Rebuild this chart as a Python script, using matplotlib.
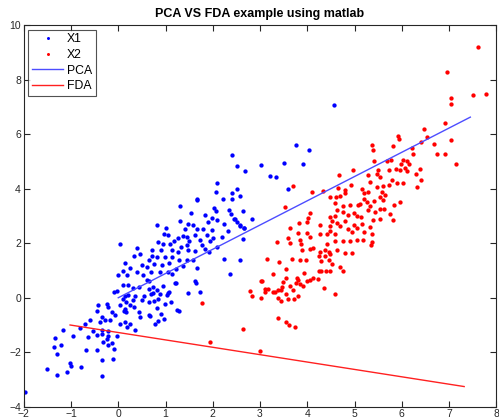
import numpy as np
import matplotlib
matplotlib.use('Agg')
import matplotlib.pyplot as plt

plt.rcParams['font.family'] = ['Liberation Sans', 'DejaVu Sans']

# ── Data ──────────────────────────────────────────────────────────────────────

# class X1 (blue dots)
x1_pts = [
    # lower tail
    (-1.97, -3.45), (-1.51, -2.61), (-1.08, -2.71), (-1.29, -2.83), (-0.34, -2.89),
    (-1.02, -2.39), (-0.99, -2.49), (-0.79, -2.55), (-0.35, -2.28), (-0.12, -2.24),
    (-1.29, -2.06), (-0.68, -1.90), (-0.44, -1.90), (-0.10, -1.88), (-0.21, -1.75),
    (-0.14, -1.66), (-0.24, -1.53), (-0.33, -1.61), (-1.36, -1.80), (-1.21, -1.73),
    (-1.34, -1.47), (-0.96, -1.40), (-0.63, -1.45), (-0.46, -1.36), (-0.35, -1.33),
    (-0.21, -1.42), (-0.03, -1.39), (-1.16, -1.20), (-0.81, -1.12), (-0.53, -1.21),
    (-0.35, -1.20), (-0.21, -1.23), (-0.70, -0.96), (-0.39, -0.90), (-0.28, -0.83),
    (0.04, -0.96), (0.14, -0.90), (0.18, -1.08), (0.25, -0.96), (0.36, -1.20),
    (-0.60, -0.81), (-0.17, -0.80), (-0.07, -0.65), (-0.46, -0.47), (-0.35, -0.69),
    (0.12, -0.49), (0.17, -0.53), (0.43, -0.53), (0.46, -0.71), (0.66, -0.65),
    (-0.42, -0.26), (-0.24, -0.22), (-0.21, -0.35), (-0.14, -0.53), (0.04, -0.28),
    (0.14, -0.43), (0.25, -0.28), (0.33, -0.35), (0.09, -0.04), (0.17, -0.14),
    (0.32, -0.08), (0.50, -0.08), (0.64, -0.14), (-0.08, 0.21), (-0.03, 0.24),
    (0.14, 0.08), (0.21, 0.11), (0.35, 0.08), (0.54, 0.06), (0.11, 0.45),
    (0.21, 0.45), (0.32, 0.35), (0.43, 0.39), (0.64, 0.33), (-0.01, 0.82),
    (0.19, 0.82), (0.39, 0.94), (0.53, 0.82), (0.60, 0.64),
    # right of the tail
    (0.67, -0.66), (0.70, 0.15), (0.73, 0.41), (0.76, -0.12), (0.78, -0.95),
    (0.81, 0.27), (0.83, -0.37), (0.85, -0.87), (0.88, 0.15), (0.90, -0.59),
    (0.94, 0.44), (0.97, -0.79), (0.99, -0.22), (1.03, 0.09), (1.08, 0.21),
    (1.11, -0.16), (1.25, -0.44), (1.29, -0.50), (1.48, 0.17), (1.72, 0.22),
    (1.65, 0.54), (1.20, 0.54), (0.85, -0.04), (0.74, 0.17), (1.06, 0.17),
    # left middle
    (0.04, 1.98), (0.39, 1.83), (0.33, 1.55), (0.14, 1.27), (0.45, 1.61),
    (0.25, 1.10), (0.50, 1.20), (0.10, 1.00),
    # main body
    (2.40, 5.23), (2.52, 4.82), (2.69, 4.64), (3.01, 4.87), (3.22, 4.48),
    (3.34, 4.42), (3.51, 4.95), (2.08, 4.21), (2.07, 3.88), (1.67, 3.64),
    (1.67, 3.57), (2.22, 3.64), (2.41, 3.84), (2.52, 4.00), (2.41, 3.64),
    (1.31, 3.37), (2.03, 3.29), (2.07, 3.17), (1.84, 3.05), (1.53, 3.11),
    (2.34, 3.21), (2.63, 3.18), (2.39, 3.06), (2.82, 2.90), (1.98, 2.94),
    (2.10, 2.86), (2.47, 2.90), (1.31, 2.81), (0.82, 2.67), (1.48, 2.69),
    (1.59, 2.66), (1.89, 2.79), (2.24, 2.72), (2.51, 2.78), (2.58, 2.62),
    (2.66, 2.57), (1.00, 2.57), (0.97, 2.35), (1.06, 2.31), (1.67, 2.51),
    (1.79, 2.53), (1.98, 2.47), (2.33, 2.45), (1.41, 2.53), (1.17, 2.10),
    (1.27, 2.20), (1.36, 2.25), (1.45, 2.23), (1.50, 2.08), (1.62, 2.29),
    (1.73, 2.13), (1.87, 2.29), (1.95, 2.10), (2.01, 2.20), (2.19, 2.23),
    (2.65, 2.17), (0.85, 2.04), (0.95, 1.96), (1.10, 1.98), (1.32, 1.88),
    (1.45, 1.92), (1.77, 1.92), (2.10, 1.88), (0.71, 1.74), (0.90, 1.74),
    (1.13, 1.74), (1.27, 1.67), (1.47, 1.74), (1.62, 1.71), (1.84, 1.80),
    (1.91, 1.67), (0.71, 1.55), (0.83, 1.49), (0.99, 1.51), (1.14, 1.51),
    (1.29, 1.39), (1.45, 1.37), (1.59, 1.39), (0.64, 1.39), (0.60, 1.12),
    (0.76, 1.25), (0.93, 1.22), (1.07, 1.27), (1.22, 1.06), (1.36, 1.15),
    (0.69, 0.94), (0.88, 0.94), (1.05, 0.96), (1.13, 0.88), (2.24, 1.43),
    (2.58, 1.37), (1.67, 1.10), (2.37, 0.88), (1.62, 0.60), (0.64, 0.63),
    (1.22, 0.53), (2.58, 3.74), (2.44, 2.90), (2.58, 2.68), (2.66, 2.56),
    # stragglers above the PCA line
    (3.76, 5.60), (4.03, 5.42), (3.90, 4.91), (3.59, 3.98), (4.57, 7.07),
]

# class X2 (red dots)
x2_pts = [
    (4.09, 3.88), (3.52, 3.33), (4.48, 3.70), (4.61, 3.70), (4.69, 3.72),
    (4.80, 3.85), (4.59, 3.48), (4.76, 3.36), (4.90, 3.39), (5.08, 3.39),
    (4.62, 3.21), (4.76, 3.15), (4.87, 3.03), (4.98, 3.11), (4.06, 3.11),
    (4.48, 2.96), (4.59, 2.99), (4.02, 2.93), (3.99, 2.78), (4.52, 2.82),
    (4.62, 2.74), (4.80, 2.81), (5.05, 2.99), (4.26, 2.68), (3.64, 2.57),
    (3.83, 2.74), (4.48, 2.62), (4.69, 2.62), (4.87, 2.54), (5.05, 2.57),
    (4.48, 2.45), (4.59, 2.35), (4.94, 2.41), (3.80, 2.39), (4.00, 2.39),
    (4.27, 2.33), (4.41, 2.33), (3.60, 2.20), (3.64, 2.02), (3.35, 2.05),
    (3.85, 2.13), (4.06, 2.23), (4.41, 1.98), (4.59, 2.08), (4.76, 2.08),
    (4.90, 2.08), (5.05, 2.13), (3.86, 1.96), (4.06, 1.80), (3.88, 1.77),
    (4.13, 1.84), (4.27, 1.68), (4.38, 1.74), (4.45, 1.68), (4.62, 1.74),
    (4.80, 1.65), (4.94, 1.65), (4.24, 1.55), (4.38, 1.55), (4.48, 1.62),
    (3.14, 1.43), (3.40, 1.33), (3.67, 1.43), (3.85, 1.37), (3.97, 1.37),
    (4.30, 1.35), (4.45, 1.37), (4.52, 1.25), (4.69, 1.13), (4.75, 0.97),
    (3.56, 1.04), (3.27, 0.86), (4.24, 1.00), (4.30, 1.00), (4.40, 1.00),
    (4.48, 0.97), (3.92, 0.91), (3.56, 0.73), (3.78, 0.73), (4.06, 0.64),
    (4.13, 0.73), (4.22, 0.70), (3.02, 0.61), (3.49, 0.58), (3.81, 0.64),
    (4.00, 0.60), (3.85, 0.49), (3.90, 0.43), (3.64, 0.42), (3.76, 0.54),
    (3.37, 0.29), (3.44, 0.29), (4.35, 0.35), (3.16, 0.32), (3.11, 0.21),
    (2.79, 0.24), (2.84, 0.05), (3.02, 0.00), (3.28, 0.20), (3.37, 0.00),
    (3.44, -0.12), (3.55, 0.12), (3.60, -0.04), (3.69, 0.29), (3.71, -0.04),
    (3.81, 0.05), (4.59, 0.15), (3.37, -0.75), (3.56, -0.90), (3.62, -1.01),
    (3.73, -1.08), (2.63, -1.14), (3.00, -1.96), (1.77, -0.18), (1.94, -1.63),
    (3.69, 4.09), (3.04, 0.63), (3.11, 0.33), (3.32, 0.20), (3.46, 0.39),
    # upper part of the cloud
    (5.93, 5.94), (5.94, 5.81), (6.46, 6.19), (6.54, 5.91), (5.38, 5.60),
    (5.40, 5.42), (5.81, 5.57), (6.21, 5.51), (6.41, 5.72), (6.23, 5.27),
    (5.41, 5.02), (5.68, 5.02), (5.77, 5.07), (6.03, 5.07), (6.12, 5.01),
    (5.99, 4.90), (6.16, 4.90), (5.88, 4.74), (5.96, 4.68), (6.07, 4.77),
    (5.72, 4.68), (6.10, 4.66), (6.30, 4.56), (6.39, 4.74), (4.96, 4.68),
    (4.67, 4.50), (5.49, 4.70), (5.47, 4.56), (5.29, 4.50), (5.33, 4.25),
    (5.54, 4.43), (5.79, 4.31), (5.89, 4.23), (6.03, 4.21), (6.41, 4.34),
    (6.32, 4.07), (5.60, 4.09), (5.72, 4.13), (5.47, 4.07), (5.15, 4.01),
    (4.79, 3.94), (4.92, 4.15), (4.64, 4.03), (4.34, 3.91), (5.19, 3.85),
    (5.28, 3.88), (5.58, 3.88), (5.65, 3.76), (5.53, 3.68), (5.96, 3.52),
    (5.42, 3.55), (5.61, 3.58), (5.84, 3.39), (5.19, 3.64), (5.26, 3.52),
    (5.33, 3.36), (5.12, 3.45), (5.54, 3.27), (5.62, 3.27), (5.43, 3.15),
    (5.75, 3.09), (5.81, 2.84), (5.53, 2.90), (5.29, 3.21), (5.40, 2.84),
    (5.33, 2.60), (5.14, 2.96), (5.15, 2.72), (5.19, 2.41), (5.36, 2.04),
    (5.34, 1.92), (5.38, 2.35), (5.17, 2.11), (4.98, 2.66),
    # far upper-right
    (7.62, 9.21), (6.95, 8.30), (7.50, 7.44), (7.79, 7.47), (7.04, 7.35),
    (7.04, 7.11), (6.92, 6.42), (6.69, 5.64), (6.74, 5.29), (6.92, 5.27),
    (7.04, 5.78), (7.14, 4.92),
]

# projection directions (end points)
pca_x = [0.0, 7.45]
pca_y = [0.0, 6.63]
fda_x = [-1.02, 7.32]
fda_y = [-1.0, -3.26]

xticks = list(range(-2, 9))
yticks = list(range(-4, 11, 2))

# ── Plot ──────────────────────────────────────────────────────────────────────

x1 = np.array(x1_pts)
x2 = np.array(x2_pts)

fig = plt.figure(figsize=(4.99, 4.18), dpi=100)
ax = fig.add_axes([0.0476, 0.027, 0.947, 0.9124])

ax.plot(x1[:, 0], x1[:, 1], 'o', color='#0000ff', markersize=3.1,
        markeredgewidth=0, linestyle='none', label='X1')
ax.plot(x2[:, 0], x2[:, 1], 'o', color='#ff0000', markersize=3.1,
        markeredgewidth=0, linestyle='none', label='X2')
ax.plot(pca_x, pca_y, color='#4d4dff', linewidth=1.0, label='PCA')
ax.plot(fda_x, fda_y, color='#ff2020', linewidth=1.0, label='FDA')

ax.set_xlim(-2, 8)
ax.set_ylim(-4, 10)
ax.set_xticks(xticks)
ax.set_yticks(yticks)
ax.tick_params(direction='in', length=4, width=0.8, labelsize=7.5,
               top=True, right=True, colors='#262626', pad=2)
for s in ax.spines.values():
    s.set_color('#262626')
    s.set_linewidth(0.8)

ax.set_title('PCA VS FDA example using matlab', fontsize=9, fontweight='bold',
             pad=6)

leg = ax.legend(loc='upper left', fontsize=8.8, frameon=True, fancybox=False,
                edgecolor='#262626', borderpad=0.3, labelspacing=0.3,
                handlelength=2.6, handletextpad=0.3, borderaxespad=0.35,
                markerscale=0.7)
leg.get_frame().set_linewidth(0.8)

fig.savefig('out.png', dpi=100)
